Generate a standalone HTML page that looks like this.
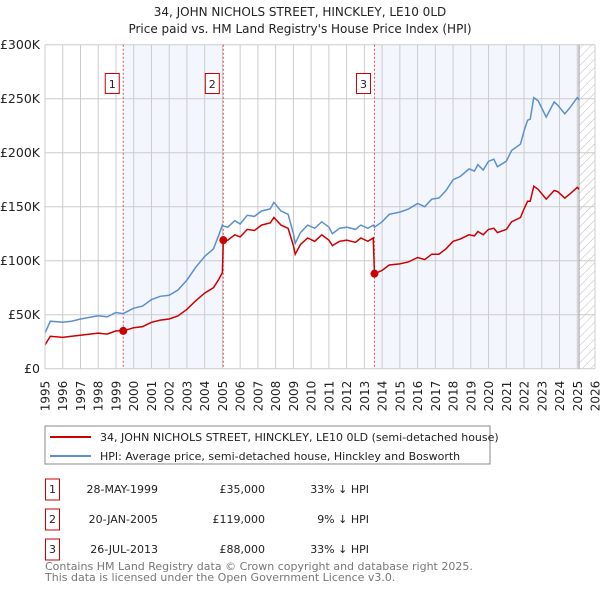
<!DOCTYPE html>
<html><head><meta charset="utf-8"><style>
body{margin:0;background:#fff;font-family:"Liberation Sans","DejaVu Sans",sans-serif;}
svg text{font-family:"DejaVu Sans","Liberation Sans",sans-serif;}
</style></head><body>
<svg id="c" width="600" height="590" xmlns="http://www.w3.org/2000/svg">
<defs><pattern id="hatch" width="6" height="6" patternUnits="userSpaceOnUse" patternTransform="rotate(45)"><line x1="0" y1="0" x2="0" y2="6" stroke="#bbb" stroke-width="1"/></pattern></defs>
<text x="300" y="16" text-anchor="middle" font-size="12" fill="#222">34, JOHN NICHOLS STREET, HINCKLEY, LE10 0LD</text>
<text x="300" y="33" text-anchor="middle" font-size="12" fill="#222">Price paid vs. HM Land Registry's House Price Index (HPI)</text>
<g id="plot"></g>
<rect x="45" y="426" width="445" height="38" fill="#fff" stroke="#888"/>
<line x1="50" y1="437" x2="91" y2="437" stroke="#cc0000" stroke-width="2"/>
<text x="100" y="441" font-size="11" fill="#222">34, JOHN NICHOLS STREET, HINCKLEY, LE10 0LD (semi-detached house)</text>
<line x1="50" y1="456" x2="91" y2="456" stroke="#5b8fd0" stroke-width="2"/>
<text x="100" y="460" font-size="11" fill="#222">HPI: Average price, semi-detached house, Hinckley and Bosworth</text>
<g id="tbl" font-size="11" fill="#222"></g>
<text x="45" y="570" font-size="11" fill="#777">Contains HM Land Registry data © Crown copyright and database right 2025.</text>
<text x="45" y="581" font-size="11" fill="#777">This data is licensed under the Open Government Licence v3.0.</text>
</svg>
<script>
const years=[1995,1995.3,1996,1996.5,1997,1998,1998.5,1999,1999.4,2000,2000.5,2001,2001.5,2002,2002.5,2003,2003.5,2004,2004.5,2004.8,2005.0,2005.05,2005.3,2005.7,2006,2006.4,2006.8,2007.2,2007.7,2007.9,2008.3,2008.7,2009.0,2009.1,2009.4,2009.8,2010.2,2010.6,2011.0,2011.2,2011.6,2012,2012.5,2012.8,2013.2,2013.5,2013.57,2014,2014.4,2015,2015.5,2016,2016.4,2016.8,2017.2,2017.6,2018,2018.4,2018.9,2019.2,2019.4,2019.7,2020,2020.3,2020.5,2021,2021.3,2021.8,2022,2022.2,2022.35,2022.55,2022.8,2023.25,2023.7,2023.9,2024.3,2024.6,2025,2025.1];
const hpi=[33,44,43,44,46,49,48,52,51,56,58,64,67,68,73,82,94,104,111,124,133,132,131,137,134,142,141,146,148,154,146,143,125,116,126,133,130,136,131,125,130,131,129,133,130,133,131,136,143,145,148,153,150,157,158,165,175,178,185,183,189,184,192,194,187,192,202,208,220,230,231,251,248,233,247,244,236,242,251,249];
const price=[22,30,29,30,31,33,32,35,35,38,39,43,45,46,49,55,63,70,75,83,89,119,119,124,122,129,128,133,135,140,133,130,114,106,115,121,118,124,119,114,118,119,117,121,118,121,88,91,96,97,99,103,101,106,106,111,118,120,124,123,127,124,129,130,126,129,136,140,148,155,155,169,166,157,165,164,158,162,168,166];
const saleYears=[1999.41,2005.05,2013.57];
const salePrices=[35,119,88];
const saleLabels=["1","2","3"];
const saleDates=["28-MAY-1999","20-JAN-2005","26-JUL-2013"];
const saleAmounts=["£35,000","£119,000","£88,000"];
const saleDiffs=["33% ↓ HPI","9% ↓ HPI","33% ↓ HPI"];
const yTicks=[0,50,100,150,200,250,300];
const yTickLabels=["£0","£50K","£100K","£150K","£200K","£250K","£300K"];
const xTicks=[];for(let y=1995;y<=2026;y++)xTicks.push(y);

const L=45,R=595,T=44.7,B=368.7;
const X=y=>L+(y-1995)*(R-L)/31;
const Y=v=>B-v*(B-T)/300;
const NS="http://www.w3.org/2000/svg";
const g=document.getElementById('plot');
function mk(tag,attrs,parent){const e=document.createElementNS(NS,tag);for(const k in attrs)e.setAttribute(k,attrs[k]);(parent||g).appendChild(e);return e;}
let e;
e=mk('rect',{x:L,y:T,width:R-L,height:B-T,fill:'#fff'});


e=mk('rect',{x:X(saleYears[0]),y:T,width:X(saleYears[1])-X(saleYears[0]),height:B-T,fill:'#eef3fc',opacity:0.7});


e=mk('rect',{x:X(saleYears[2]),y:T,width:X(2025.1)-X(saleYears[2]),height:B-T,fill:'#eef3fc',opacity:0.7});


e=mk('rect',{x:X(2025.1),y:T,width:R-X(2025.1),height:B-T,fill:'url(#hatch)'});


xTicks.forEach(t=>{
 e=mk('line',{x1:X(t),x2:X(t),y1:T,y2:B,stroke:'#ccc','stroke-width':1});
 
 
 e=mk('text',{x:0,y:0,'text-anchor':'end','font-size':12,fill:'#222',transform:`translate(${(X(t)+4.5).toFixed(1)},${B+12}) rotate(-90)`});
 e.textContent=t;
 
 
});
yTicks.forEach((t,i)=>{
 e=mk('line',{x1:L,x2:R,y1:Y(t),y2:Y(t),stroke:'#ccc','stroke-width':1});
 
 
 e=mk('text',{x:L-5,y:Y(t)+4.5,'text-anchor':'end','font-size':12.5,fill:'#222'});
 e.textContent=yTickLabels[i];
 
 
});
e=mk('line',{x1:X(2025.1),x2:X(2025.1),y1:T,y2:B,stroke:'#999','stroke-width':1});


saleYears.forEach((s,i)=>{
 e=mk('line',{x1:X(s),x2:X(s),y1:T,y2:B,stroke:'#e05050','stroke-width':1,'stroke-dasharray':'2,2'});
 
 
 e=mk('rect',{x:X(s)-18,y:73.5,width:14,height:20,fill:'#fff',stroke:'#cc0000'});
 
 
 e=mk('text',{x:X(s)-11,y:88,'text-anchor':'middle','font-size':11,fill:'#222'});
 e.textContent=saleLabels[i];
 
 
});
const pts=a=>years.map((y,i)=>X(y).toFixed(1)+','+Y(a[i]).toFixed(1)).join(' ');
e=mk('polyline',{points:pts(hpi),fill:'none',stroke:'#5b8fd0','stroke-width':1.5});


e=mk('polyline',{points:pts(price),fill:'none',stroke:'#cc0000','stroke-width':1.5});


saleYears.forEach((s,i)=>{
 e=mk('circle',{cx:X(s),cy:Y(salePrices[i]),r:4,fill:'#cc0000'});
 
 
});
mk('line',{x1:L,x2:L,y1:T,y2:B,stroke:'#ccc'});
const tb=document.getElementById('tbl');
saleLabels.forEach((l,i)=>{
 const yy=493+i*30;
 e=mk('rect',{x:45.5,y:yy-14,width:14,height:21,fill:'#fff',stroke:'#cc0000'},tb);
 
 
 e=mk('text',{x:52.5,y:yy,'text-anchor':'middle'},tb);e.textContent=l;
 
 
 e=mk('text',{x:158,y:yy,'text-anchor':'end'},tb);e.textContent=saleDates[i];
 
 
 e=mk('text',{x:265,y:yy,'text-anchor':'end'},tb);e.textContent=saleAmounts[i];
 
 
 e=mk('text',{x:369,y:yy,'text-anchor':'end'},tb);e.textContent=saleDiffs[i];
 
 
});
</script>
</body></html>
